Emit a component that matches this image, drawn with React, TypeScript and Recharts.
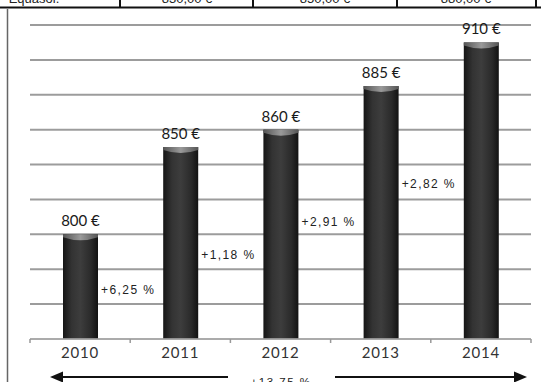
import React from 'react';
import { BarChart, Bar, XAxis, YAxis, CartesianGrid, LabelList, ReferenceDot } from 'recharts';

// yearly price, in euros
const years = ['2010', '2011', '2012', '2013', '2014'];
const prices = [800, 850, 860, 885, 910];

// value-axis range and gridline steps
const yTicks = [740, 760, 780, 800, 820, 840, 860, 880, 900, 920];

// height (in € units) where each year-to-year growth label sits
const growthLabelAt = [768, 788, 807, 829];

// cropped row of the table above the chart
const tableCells = ['Equasol.', '830,00 €', '850,00 €', '880,00 €'];

const fmtPct = (v: number) => `+${v.toFixed(2).replace('.', ',')} %`;

const data = years.map((year, i) => ({ year, price: prices[i] }));
const growth = prices.slice(1).map((p, i) => ((p - prices[i]) / prices[i]) * 100);
const totalGrowth = ((prices[prices.length - 1] - prices[0]) / prices[0]) * 100;

const CylinderBar = (props: any) => {
  const { x, y, width, height } = props;
  if (!height || height <= 0) return null;
  return (
    <g>
      <rect x={x} y={y} width={width} height={height} fill="url(#barBody)" />
      <path
        d={`M${x},${y} L${x + width},${y} L${x + width},${y + 3} Q${x + width / 2},${y + 9} ${x},${y + 3} Z`}
        fill="url(#barCap)"
      />
    </g>
  );
};

// price written above each bar, on one line
const PriceLabel = (props: any) => {
  const { x, y, width, value } = props;
  return (
    <text
      x={x + width / 2}
      y={y - 8}
      textAnchor="middle"
      fontFamily="Lato, 'Open Sans', sans-serif"
      fontSize={15}
      fill="#1a1a1a"
    >
      {`${value} €`}
    </text>
  );
};

const YearTick = (props: any) => {
  const { x, y, payload, index, width, visibleTicksCount } = props;
  const band = width / visibleTicksCount;
  const axisY = y - 8;
  const isLast = index === visibleTicksCount - 1;
  return (
    <g>
      <line x1={x - band / 2} x2={x - band / 2} y1={axisY} y2={axisY + 4} stroke="#999" strokeWidth={1.5} />
      {isLast && (
        <line x1={x + band / 2} x2={x + band / 2} y1={axisY} y2={axisY + 4} stroke="#999" strokeWidth={1.5} />
      )}
      <text
        x={x}
        y={axisY + 19}
        textAnchor="middle"
        fontFamily="Lato, 'Open Sans', sans-serif"
        fontSize={15}
        letterSpacing={0.8}
        fill="#333"
      >
        {payload.value}
      </text>
    </g>
  );
};

const GrowthLabel = (text: string) => (props: any) => {
  const { viewBox } = props;
  const cx = viewBox.x + (viewBox.width || 0) / 2;
  const cy = viewBox.y + (viewBox.height || 0) / 2;
  return (
    <text
      x={cx + 21}
      y={cy}
      dominantBaseline="central"
      fontFamily="'Liberation Sans', Arial, sans-serif"
      fontSize={12}
      letterSpacing={1.4}
      fill="#222"
    >
      {text}
    </text>
  );
};

const App: React.FC = () => {
  const tableLines = [120, 253, 397, 536];
  const cellCenters = [34, 187, 325, 466];

  return (
    <div style={{ position: 'absolute', left: 0, top: 0, width: 541, height: 382, overflow: 'hidden', background: '#fff' }}>
      <BarChart
        width={541}
        height={382}
        data={data}
        margin={{ top: 25, right: 10, left: 30, bottom: 0 }}
      >
        <defs>
          <linearGradient id="barBody" x1="0" y1="0" x2="1" y2="0">
            <stop offset="0%" stopColor="#151515" />
            <stop offset="25%" stopColor="#333" />
            <stop offset="50%" stopColor="#3d3d3d" />
            <stop offset="80%" stopColor="#2a2a2a" />
            <stop offset="100%" stopColor="#121212" />
          </linearGradient>
          <linearGradient id="barCap" x1="0" y1="0" x2="1" y2="0">
            <stop offset="0%" stopColor="#555" />
            <stop offset="50%" stopColor="#9a9a9a" />
            <stop offset="100%" stopColor="#555" />
          </linearGradient>
        </defs>
        <CartesianGrid vertical={false} stroke="#9c9c9c" strokeWidth={2} />
        <XAxis
          dataKey="year"
          height={43}
          axisLine={{ stroke: '#b0b0b0', strokeWidth: 1.5 }}
          tickLine={false}
          tick={<YearTick />}
          interval={0}
        />
        <YAxis hide domain={[740, 920]} ticks={yTicks} allowDataOverflow />
        <Bar dataKey="price" barSize={35} shape={<CylinderBar />} isAnimationActive={false}>
          <LabelList dataKey="price" content={<PriceLabel />} />
        </Bar>
        {growth.map((g, i) => (
          <ReferenceDot
            key={years[i]}
            x={years[i]}
            y={growthLabelAt[i]}
            r={0}
            stroke="none"
            fill="none"
            label={GrowthLabel(fmtPct(g))}
          />
        ))}
      </BarChart>

      {/* page frame, cropped table row and the overall growth arrow */}
      <svg width={541} height={382} style={{ position: 'absolute', left: 0, top: 0, pointerEvents: 'none' }}>
        {tableCells.map((t, i) => (
          <text
            key={t + i}
            x={cellCenters[i]}
            y={3}
            textAnchor="middle"
            fontFamily="'Liberation Sans', Arial, sans-serif"
            fontSize={13}
            fill="#222"
          >
            {t}
          </text>
        ))}
        {tableLines.map((x) => (
          <line key={x} x1={x} x2={x} y1={0} y2={8} stroke="#111" strokeWidth={2} />
        ))}
        <line x1={0} x2={541} y1={7.5} y2={7.5} stroke="#111" strokeWidth={2} />
        <line x1={7.5} x2={7.5} y1={9} y2={382} stroke="#666" strokeWidth={1.5} />

        <line x1={58} x2={228} y1={377} y2={377} stroke="#111" strokeWidth={2} />
        <polygon points="50,377 63,371.5 63,382.5" fill="#111" />
        <line x1={335} x2={518} y1={377} y2={377} stroke="#111" strokeWidth={2} />
        <polygon points="527,377 514,371.5 514,382.5" fill="#111" />
        <text
          x={281}
          y={386}
          textAnchor="middle"
          fontFamily="'Liberation Sans', Arial, sans-serif"
          fontSize={11.5}
          letterSpacing={1.5}
          fill="#222"
        >
          {fmtPct(totalGrowth)}
        </text>
      </svg>
    </div>
  );
};

export default App;
